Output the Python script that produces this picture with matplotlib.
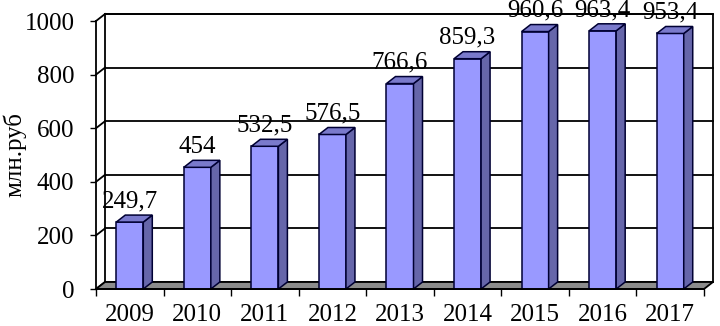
import matplotlib
matplotlib.use("Agg")
import matplotlib.pyplot as plt
from matplotlib.patches import Polygon

years = ["2009", "2010", "2011", "2012", "2013", "2014", "2015", "2016", "2017"]
values = [249.7, 454, 532.5, 576.5, 766.6, 859.3, 960.6, 963.4, 953.4]
labels = ["249,7", "454", "532,5", "576,5", "766,6", "859,3", "960,6", "963,4", "953,4"]
yticks = [0, 200, 400, 600, 800, 1000]
ylabel = "млн.руб"

plt.rcParams['font.family'] = ['Liberation Serif', 'DejaVu Serif']
fs = 18

fig = plt.figure(figsize=(7.2, 3.26), dpi=100)
ax = fig.add_axes([96/720, (326-289)/326, 608/720, 268/326])
n = len(years)
ax.set_xlim(0, n)
ax.set_ylim(0, 1000)

# depth offset in data units
px_x = n / 608.0
px_y = 1000 / 268.0
dx = 9 * px_x
dy = 7 * px_y
lw = 1.3

# back wall outline
ax.plot([dx, dx, n + dx, n + dx], [dy, 1000 + dy, 1000 + dy, dy], color='black', lw=lw, clip_on=False, zorder=1)
# gridlines on back wall + diagonal connectors
for t in yticks:
    ax.plot([dx, n + dx], [t + dy, t + dy], color='black', lw=lw, clip_on=False, zorder=1)
    ax.plot([0, dx], [t, t + dy], color='black', lw=lw, clip_on=False, zorder=1)

# floor
floor = Polygon([(0, 0), (n, 0), (n + dx, dy), (dx, dy)], closed=True,
                facecolor='#8c8c8c', edgecolor='black', lw=lw, clip_on=False, zorder=2)
ax.add_patch(floor)

# bars
w = 0.4
front_c = '#9999FF'
side_c = '#6666AA'
top_c = '#7A7ACC'
edge_c = '#000033'
for i, v in enumerate(values):
    c = i + 0.5
    x0, x1 = c - w / 2, c + w / 2
    front = Polygon([(x0, 0), (x1, 0), (x1, v), (x0, v)], closed=True,
                    facecolor=front_c, edgecolor=edge_c, lw=1.1, clip_on=False, zorder=3)
    side = Polygon([(x1, 0), (x1 + dx, dy), (x1 + dx, v + dy), (x1, v)], closed=True,
                   facecolor=side_c, edgecolor=edge_c, lw=1.1, clip_on=False, zorder=3)
    top = Polygon([(x0, v), (x1, v), (x1 + dx, v + dy), (x0 + dx, v + dy)], closed=True,
                  facecolor=top_c, edgecolor=edge_c, lw=1.1, clip_on=False, zorder=3)
    for p in (front, side, top):
        ax.add_patch(p)
    ax.annotate(labels[i], xy=(c, v + dy), xytext=(0, 2), textcoords='offset points',
                ha='center', va='bottom', fontsize=fs, annotation_clip=False, zorder=5)

# axes styling
for s in ['top', 'right']:
    ax.spines[s].set_visible(False)
ax.spines['left'].set_linewidth(lw)
ax.spines['bottom'].set_linewidth(lw)
ax.spines['left'].set_zorder(4)
ax.spines['bottom'].set_zorder(4)
ax.set_yticks(yticks)
ax.set_yticklabels([str(t) for t in yticks], fontsize=fs)
ax.tick_params(axis='y', direction='out', length=4.5, width=1, pad=11)
ax.set_xticks(range(n + 1))
ax.set_xticklabels([])
ax.set_xticks([i + 0.5 for i in range(n)], minor=True)
ax.set_xticklabels(years, minor=True, fontsize=fs)
ax.tick_params(axis='x', which='major', direction='out', length=5, width=1)
ax.tick_params(axis='x', which='minor', length=0, pad=11)
fig.text(15/720, 1 - 155/326, ylabel, rotation=90, ha='center', va='center', fontsize=fs)
ax.patch.set_alpha(0)

fig.savefig("out.png", dpi=100)
